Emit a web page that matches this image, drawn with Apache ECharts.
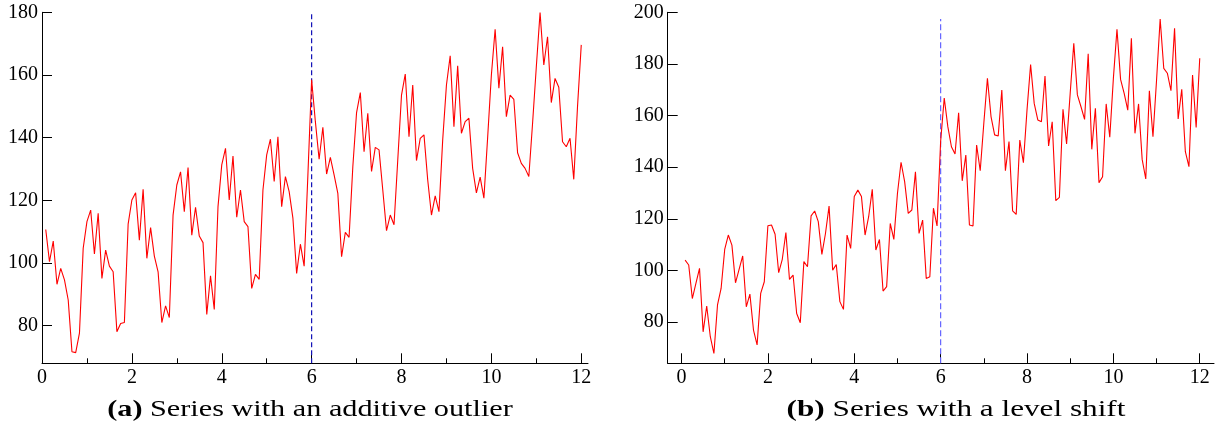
<!DOCTYPE html>
<html>
<head>
<meta charset="utf-8">
<script src="https://cdn.jsdelivr.net/npm/echarts@6/dist/echarts.min.js"></script>
<style>
html,body{margin:0;padding:0;background:#fff;}
#chart{width:1224px;height:432px;}
</style>
</head>
<body>
<div id="chart"></div>
<script>
// ---- data (monthly observations, 12 per unit of time) ----
const periodsPerUnit = 12;
const eventTime = 6;

const outlierValues = [
110.7,100.4,107.0,93.2,98.3,94.6,88.2,71.7,71.4,77.6,104.7,113.2,
116.9,102.9,115.9,95.1,104.1,99.0,97.2,78.1,80.7,81.0,112.4,120.1,
122.4,107.3,123.5,101.5,111.3,102.2,97.2,81.0,86.3,82.6,115.3,124.9,
129.1,116.4,130.5,108.9,117.8,108.6,106.5,83.6,95.9,85.2,118.0,131.3,
136.6,120.1,134.1,114.6,123.3,113.2,111.6,91.9,96.4,94.8,123.3,134.5,
139.5,126.0,140.3,118.0,127.6,122.8,114.3,96.7,106.0,99.0,128.0,158.5,
145.1,133.1,143.3,128.4,133.7,128.1,122.2,102.0,109.8,108.2,130.7,148.0,
154.4,135.5,147.8,129.2,136.9,136.1,123.3,110.3,115.3,112.2,132.9,153.6,
160.3,140.3,156.8,132.7,139.8,140.9,126.5,115.3,121.4,116.4,139.3,156.8,
166.1,143.5,162.9,141.4,145.1,146.2,130.2,122.4,127.4,120.7,140.0,160.0,
174.6,155.8,169.0,146.7,153.6,152.2,135.2,131.8,130.2,127.6,144.6,162.6,
179.9,163.2,172.2,151.2,158.9,156.1,138.7,137.1,139.8,126.7,149.9,169.6
];

const levelShiftValues = [
104.0,102.1,89.1,95.0,100.8,76.2,86.2,74.3,67.8,86.6,93.0,108.1,
113.7,109.8,95.2,100.4,105.6,85.9,90.8,76.9,71.1,91.1,95.6,117.3,
117.6,114.0,99.1,104.3,114.7,96.5,98.2,83.3,79.7,103.4,101.4,121.1,
123.0,118.9,106.2,114.3,124.9,100.1,102.3,87.9,84.9,113.7,108.5,128.6,
131.1,128.6,113.7,120.8,131.4,107.9,112.0,92.0,93.7,118.2,112.0,129.8,
141.9,134.4,122.1,123.4,138.2,114.3,119.5,96.9,97.5,124.1,117.2,150.0,
166.8,155.7,147.9,145.1,161.1,134.7,144.7,117.6,117.2,148.6,138.6,157.0,
174.4,159.6,152.5,152.1,169.9,138.6,149.9,123.1,121.7,150.5,141.7,162.1,
179.8,164.7,158.3,157.6,175.3,148.2,157.6,127.0,128.3,162.4,149.0,168.6,
188.0,168.0,163.4,158.5,183.9,146.9,162.8,134.0,136.3,164.5,151.6,174.4,
193.4,174.0,168.6,162.1,189.9,153.1,164.5,143.0,135.4,169.6,151.8,173.8,
197.4,178.3,176.4,169.6,193.8,158.7,170.2,146.0,140.2,175.7,155.4,182.2
];

const xMajorTicks = [0, 2, 4, 6, 8, 10, 12];
const xMinorTicks = [1, 3, 5, 7, 9, 11];
const yTicksA = [80, 100, 120, 140, 160, 180];
const yTicksB = [80, 100, 120, 140, 160, 180, 200];
const captionA = 'Series with an additive outlier';
const captionB = 'Series with a level shift';

// ---- build ----
const toPairs = vals => vals.map((v, i) => [(i + 1) / periodsPerUnit, v]);
const FONT = '"Liberation Serif", "DejaVu Serif", serif';

const panels = [
  {left: 42, width: 546, xMin: 0, xMax: 12.15, yMin: 68, yMax: 180, yTicks: yTicksA,
   vals: outlierValues, dash: '#1414b8', dashType: [5, 3]},
  {left: 667.7, width: 546.3, xMin: -0.32, xMax: 12.33, yMin: 64, yMax: 200, yTicks: yTicksB,
   vals: levelShiftValues, dash: '#6464ff', dashType: [6, 3]}
];

const grid = [], xAxis = [], yAxis = [], series = [];
panels.forEach((p, k) => {
  grid.push({left: p.left, top: 12.3, width: p.width, height: 351});
  xAxis.push({
    gridIndex: k, type: 'value', min: p.xMin, max: p.xMax, position: 'bottom',
    axisLine: {show: true, onZero: false, lineStyle: {color: '#000', width: 1}},
    axisTick: {show: true, inside: true, length: 10, customValues: xMajorTicks, lineStyle: {color: '#000', width: 1}},
    axisLabel: {show: true, customValues: xMajorTicks, margin: 4, fontFamily: FONT, fontSize: 20, color: '#000'},
    splitLine: {show: false}
  });
  xAxis.push({
    gridIndex: k, type: 'value', min: p.xMin, max: p.xMax, position: 'bottom', offset: 0,
    axisLine: {show: false, onZero: false},
    axisTick: {show: true, inside: true, length: 5, customValues: xMinorTicks, lineStyle: {color: '#000', width: 1}},
    axisLabel: {show: false},
    splitLine: {show: false}
  });
  yAxis.push({
    gridIndex: k, type: 'value', min: p.yMin, max: p.yMax, position: 'left',
    axisLine: {show: true, onZero: false, lineStyle: {color: '#000', width: 1}},
    axisTick: {show: true, inside: true, length: 10, customValues: p.yTicks, lineStyle: {color: '#000', width: 1}},
    axisLabel: {show: true, customValues: p.yTicks, margin: 4, fontFamily: FONT, fontSize: 20, color: '#000'},
    splitLine: {show: false}
  });
  const maxVal = Math.max.apply(null, p.vals);
  series.push({
    type: 'line', xAxisIndex: 2 * k, yAxisIndex: k, data: [[eventTime, p.yMin], [eventTime, maxVal]],
    showSymbol: false, symbol: 'none', silent: true,
    lineStyle: {color: p.dash, width: 1.2, type: p.dashType}
  });
  series.push({
    type: 'line', xAxisIndex: 2 * k, yAxisIndex: k, data: toPairs(p.vals),
    showSymbol: false, symbol: 'none', silent: true,
    lineStyle: {color: '#ff0000', width: 1.1}
  });
});

const captionStyle = text => ({
  text: text, align: 'center', verticalAlign: 'middle',
  fontFamily: FONT, fontSize: 24, fill: '#000',
  rich: {b: {fontWeight: 'bold', fontFamily: FONT, fontSize: 24, fill: '#000'}}
});

const chart = echarts.init(document.getElementById('chart'), null, {renderer: 'canvas'});
chart.setOption({
  animation: false,
  backgroundColor: '#fff',
  grid, xAxis, yAxis, series,
  graphic: [
    {type: 'text', x: 310, y: 410, scaleX: 1.26, style: captionStyle('{b|(a)} ' + captionA)},
    {type: 'text', x: 956, y: 410, scaleX: 1.3, style: captionStyle('{b|(b)} ' + captionB)}
  ]
});
</script>
</body>
</html>
